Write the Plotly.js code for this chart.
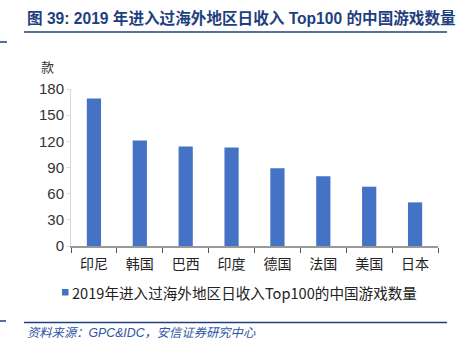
<!DOCTYPE html>
<html>
<head>
<meta charset="utf-8">
<script src="https://cdn.plot.ly/plotly-3.0.1.min.js"></script>
<style>html,body{margin:0;padding:0;background:#fff}#chart{width:463px;height:353px}</style>
</head>
<body>
<div id="chart"></div>
<script>
const categories = ["印尼", "韩国", "巴西", "印度", "德国", "法国", "美国", "日本"];
const values = [169, 121, 114, 113, 89, 80, 68, 50];
const seriesName = "2019年进入过海外地区日收入Top100的中国游戏数量";
const yTicks = [0, 30, 60, 90, 120, 150, 180];
const titleText = "图 39: 2019 年进入过海外地区日收入 Top100 的中国游戏数量";
const sourceText = "资料来源：GPC&IDC，安信证券研究中心";
const yUnit = "款";

// geometry helpers (pixel -> paper)
const L = 71, R = 438, T = 89, B = 246;
const px = x => (x - L) / (R - L);
const py = y => (B - y) / (B - T);

const cjk = '"Liberation Sans", "Noto Sans CJK SC", sans-serif';
const navy = '#1F3F7F';
const barColor = '#4472C4';

const trace = {
  type: 'bar',
  x: categories,
  y: values,
  name: seriesName,
  marker: {color: barColor, line: {width: 0}},
  showlegend: false
};

const layout = {
  width: 463, height: 353,
  margin: {l: L, r: 463 - R, t: T, b: 353 - B, pad: 0},
  paper_bgcolor: '#fff', plot_bgcolor: '#fff',
  bargap: 0.69,
  showlegend: false,
  font: {family: cjk, color: '#333'},
  xaxis: {
    type: 'category',
    showgrid: false,
    showline: true, linecolor: '#999', linewidth: 2,
    ticks: 'outside', tickson: 'boundaries', ticklen: 5, tickcolor: '#555', tickwidth: 1,
    tickfont: {family: '"Noto Sans CJK SC", serif', size: 14, color: '#222'},
    ticklabelstandoff: 4,
    zeroline: false, fixedrange: true
  },
  yaxis: {
    range: [0, 180],
    tickvals: yTicks,
    ticktext: yTicks.map(String),
    showgrid: false,
    showline: true, linecolor: '#D9D9D9', linewidth: 1,
    ticks: 'outside', ticklen: 3, tickcolor: '#D9D9D9',
    tickfont: {family: '"Liberation Sans", Arial, sans-serif', size: 15, color: '#333'},
    zeroline: false, fixedrange: true
  },
  annotations: [
    {text: titleText, xref: 'paper', yref: 'paper', x: px(25), y: py(18),
     xanchor: 'left', yanchor: 'middle', showarrow: false,
     font: {family: '"Liberation Sans", "Noto Sans CJK SC", sans-serif', size: 15.6, color: navy, weight: 'bold'}},
    {text: yUnit, xref: 'paper', yref: 'paper', x: px(47), y: py(66),
     xanchor: 'center', yanchor: 'middle', showarrow: false,
     font: {family: '"Noto Sans CJK SC", serif', size: 13, color: '#333'}},
    {text: seriesName, xref: 'paper', yref: 'paper', x: px(70), y: py(292),
     xanchor: 'left', yanchor: 'middle', showarrow: false,
     font: {family: '"Noto Sans CJK SC", serif', size: 14.6, color: '#222'}},
    {text: '<i>' + sourceText + '</i>', xref: 'paper', yref: 'paper', x: px(25), y: py(333),
     xanchor: 'left', yanchor: 'middle', showarrow: false,
     font: {family: '"Liberation Sans", "Noto Sans CJK SC", sans-serif', size: 12.3, color: '#2F55A4'}}
  ],
  shapes: [
    {type: 'rect', xref: 'paper', yref: 'paper', x0: px(62), x1: px(68.5), y0: py(289), y1: py(295.5),
     fillcolor: barColor, line: {width: 0}},
    {type: 'line', xref: 'paper', yref: 'paper', x0: px(24), x1: px(447), y0: py(32), y1: py(32),
     line: {color: navy, width: 1.5}},
    {type: 'line', xref: 'paper', yref: 'paper', x0: px(0), x1: px(7), y0: py(42), y1: py(42),
     line: {color: navy, width: 1.5}},
    {type: 'line', xref: 'paper', yref: 'paper', x0: px(24), x1: px(447), y0: py(322.5), y1: py(322.5),
     line: {color: navy, width: 1.5}},
    {type: 'line', xref: 'paper', yref: 'paper', x0: px(0), x1: px(6), y0: py(321), y1: py(321),
     line: {color: navy, width: 1.5}}
  ]
};

Plotly.newPlot('chart', [trace], layout, {displayModeBar: false, staticPlot: true});
</script>
</body>
</html>
